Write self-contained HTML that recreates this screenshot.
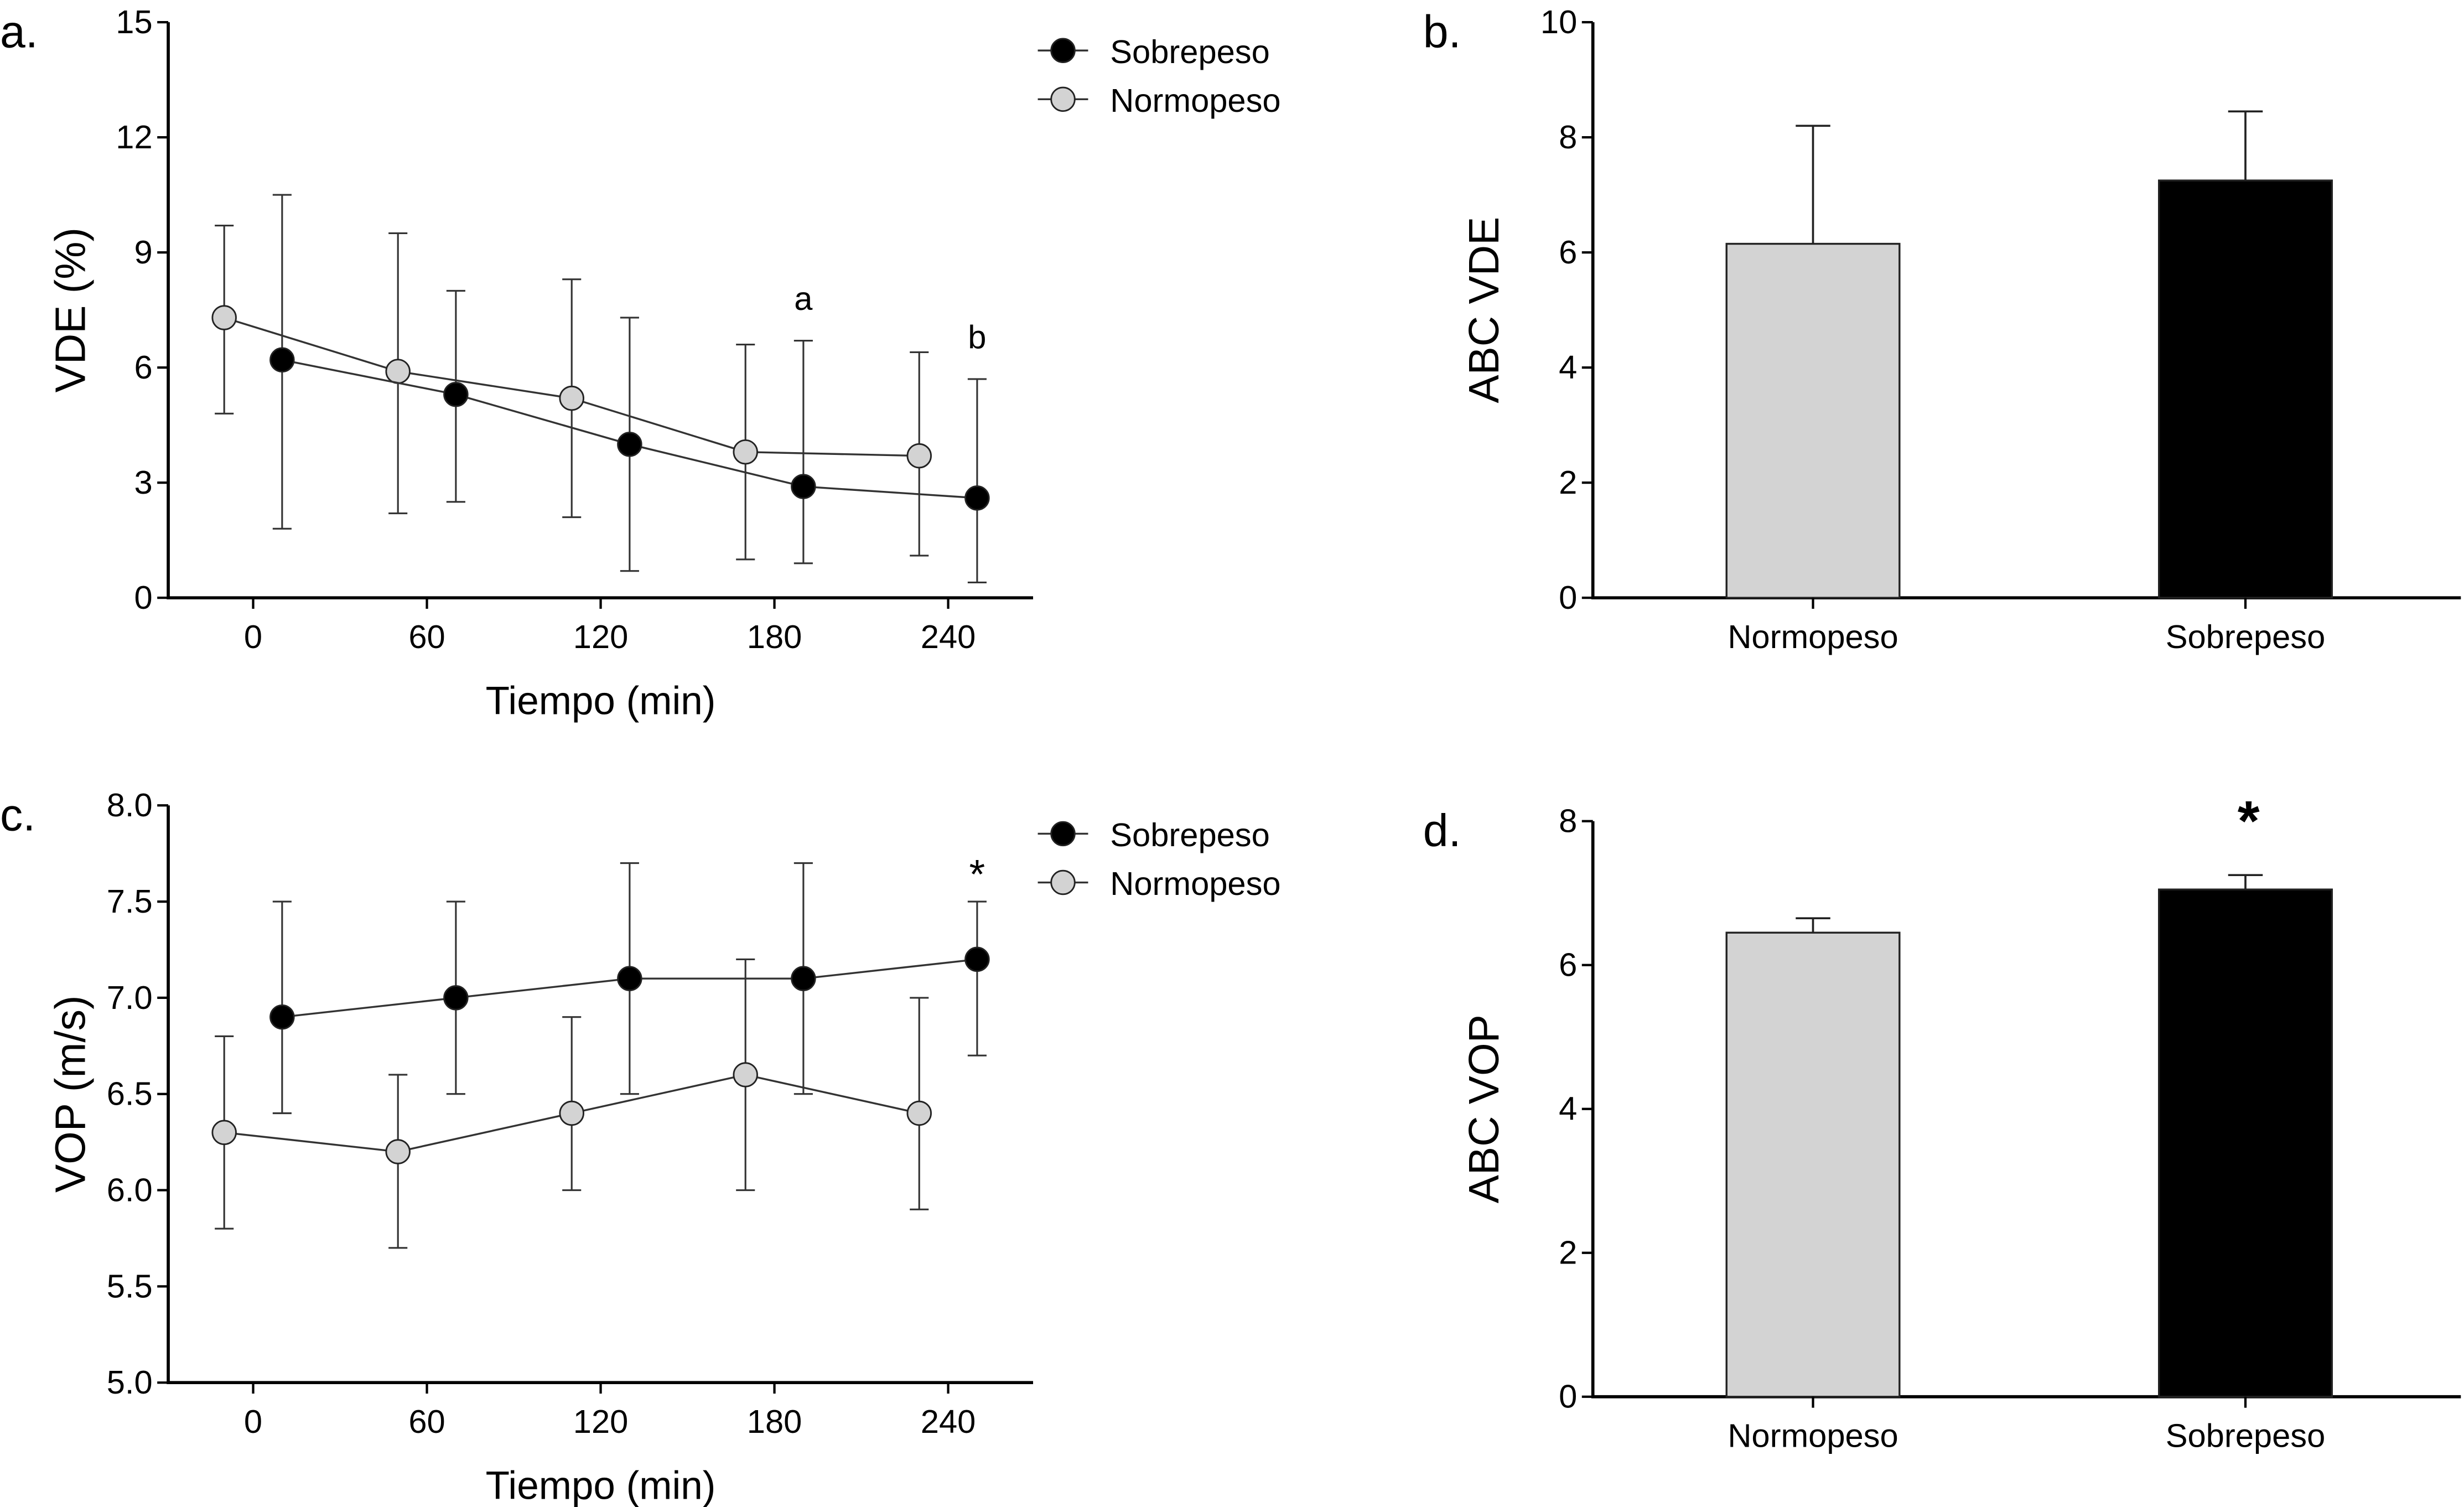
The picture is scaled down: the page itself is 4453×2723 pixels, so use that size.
<!DOCTYPE html>
<html><head><meta charset="utf-8"><style>
html,body{margin:0;padding:0;background:#fff}
svg{display:block}
text{font-family:"Liberation Sans Narrow","Liberation Sans",sans-serif;fill:#000}
.t{font-size:21px}
.ti{font-size:25px}
.lg{font-size:21px;font-family:"Liberation Sans",sans-serif}
</style></head><body>
<svg id="fig" width="4453" height="2723" viewBox="0 0 1567 958" xmlns="http://www.w3.org/2000/svg"></svg>
<script>
// Panel a data
const aNormT=[-10,50,110,170,230];
const aNormV=[7.3,5.9,5.2,3.8,3.7];
const aNormHi=[9.7,9.5,8.3,6.6,6.4];
const aNormLo=[4.8,2.2,2.1,1.0,1.1];
const aSobT=[10,70,130,190,250];
const aSobV=[6.2,5.3,4.0,2.9,2.6];
const aSobHi=[10.5,8.0,7.3,6.7,5.7];
const aSobLo=[1.8,2.5,0.7,0.9,0.4];
const aYTicks=[0,3,6,9,12,15];
const xTicks=[0,60,120,180,240];
// Panel c data
const cNormV=[6.3,6.2,6.4,6.6,6.4];
const cNormHi=[6.8,6.6,6.9,7.2,7.0];
const cNormLo=[5.8,5.7,6.0,6.0,5.9];
const cSobV=[6.9,7.0,7.1,7.1,7.2];
const cSobHi=[7.5,7.5,7.7,7.7,7.5];
const cSobLo=[6.4,6.5,6.5,6.5,6.7];
const cYTicks=[5.0,5.5,6.0,6.5,7.0,7.5,8.0];
// Panel b/d data
const barCats=["Normopeso","Sobrepeso"];
const bVals=[6.15,7.25];
const bErr=[8.2,8.45];
const bYTicks=[0,2,4,6,8,10];
const dVals=[6.45,7.05];
const dErr=[6.65,7.25];
const dYTicks=[0,2,4,6,8];

const NS="http://www.w3.org/2000/svg";
const svg=document.getElementById('fig');
function el(tag,attrs,parent){const e=document.createElementNS(NS,tag);for(const k in attrs)e.setAttribute(k,attrs[k]);(parent||svg).appendChild(e);return e;}
function txt(x,y,s,cls,anchor,parent){const t=el('text',{x:x,y:y,class:cls,'text-anchor':anchor||'start'},parent);t.textContent=s;return t;}

function linePanel(name,top,bot,ymin,ymax,yticks,yfmt,ytitle,letter,series,ann){
  const g=el('g',{});
  
  
  const X=t=>161+(t)*110.5/60;
  const Y=v=>bot-(v-ymin)/(ymax-ymin)*(bot-top);
  const ax=el('path',{d:`M107 ${top}V${bot}H657`,stroke:'#000','stroke-width':2,fill:'none'},g);
  
  
  yticks.forEach(v=>{el('line',{x1:100,x2:107,y1:Y(v),y2:Y(v),stroke:'#000','stroke-width':1.5},g);
    const t=txt(97,Y(v)+7,yfmt(v),'t','end',g);});
  xTicks.forEach(v=>{el('line',{x1:X(v),x2:X(v),y1:bot,y2:bot+7,stroke:'#000','stroke-width':1.5},g);
    const t=txt(X(v),bot+32,String(v),'t','middle',g);});
  const xt=txt(382,bot+74,'Tiempo (min)','ti','middle',g);
  
  const yt=txt(0,0,ytitle,'ti','middle',g);
  yt.setAttribute('transform',`translate(54,${(top+bot)/2}) rotate(-90)`);
  yt.style.fontSize='27px';
  
  const lt=txt(0,top+16,letter,'ti','start',g);lt.style.fontSize='29px';
  
  series.forEach(s=>{
    const sg=el('g',{},g);
    
    
    el('polyline',{points:s.t.map((t,i)=>X(t)+','+Y(s.v[i])).join(' '),fill:'none',stroke:'#333','stroke-width':1.2},sg);
    s.t.forEach((t,i)=>{const x=X(t);
      el('path',{d:`M${x} ${Y(s.hi[i])}V${Y(s.lo[i])}M${x-6} ${Y(s.hi[i])}H${x+6}M${x-6} ${Y(s.lo[i])}H${x+6}`,stroke:'#333','stroke-width':1.1,fill:'none'},sg);});
    s.t.forEach((t,i)=>{const c=el('circle',{cx:X(t),cy:Y(s.v[i]),r:7.5,fill:s.fill,stroke:'#222','stroke-width':1},sg);
      });
  });
  ann.forEach(a=>{const t=txt(X(a.t),Y(a.v),a.s,a.cls||'t','middle',g);if(a.size)t.style.fontSize=a.size;});
  const leg=el('g',{},g);
  
  
  [['Sobrepeso','#000',top+18],['Normopeso','#d3d3d3',top+49]].forEach(([n,f,y])=>{
    const e=el('g',{},leg);
    
    
    el('line',{x1:660,x2:692,y1:y,y2:y,stroke:'#333','stroke-width':1.2},e);
    el('circle',{cx:676,cy:y,r:7.5,fill:f,stroke:'#222','stroke-width':1},e);
    txt(706,y+8,n,'lg','start',e);
  });
}

function barPanel(name,top,bot,ymax,yticks,vals,errs,ytitle,letter,star){
  const g=el('g',{});
  
  
  const Y=v=>bot-v/ymax*(bot-top);
  const ax=el('path',{d:`M1013 ${top}V${bot}H1565`,stroke:'#000','stroke-width':2,fill:'none'},g);
  
  yticks.forEach(v=>{el('line',{x1:1006,x2:1013,y1:Y(v),y2:Y(v),stroke:'#000','stroke-width':1.5},g);
    const t=txt(1003,Y(v)+7,String(v),'t','end',g);});
  const yt=txt(0,0,ytitle,'ti','middle',g);
  yt.setAttribute('transform',`translate(953,${(top+bot)/2}) rotate(-90)`);
  yt.style.fontSize='27px';
  
  const lt=txt(905,top+16,letter,'ti','start',g);lt.style.fontSize='29px';
  
  const cx=[1153,1428],fills=['#d3d3d3','#000'];
  barCats.forEach((c,i)=>{
    el('path',{d:`M${cx[i]} ${Y(vals[i])}V${Y(errs[i])}M${cx[i]-11} ${Y(errs[i])}H${cx[i]+11}`,stroke:'#222','stroke-width':1.3,fill:'none'},g);
    const r=el('rect',{x:cx[i]-55,y:Y(vals[i]),width:110,height:bot-Y(vals[i]),fill:fills[i],stroke:'#222','stroke-width':1.2},g);
    
    el('line',{x1:cx[i],x2:cx[i],y1:bot,y2:bot+7,stroke:'#000','stroke-width':1.5},g);
    const t=txt(cx[i],bot+32,c,'t','middle',g);t.style.fontFamily='"Liberation Sans",sans-serif';
    
  });
  if(star){const t=txt(1430,Y(errs[1])-22,'*','ti','middle',g);t.style.fontSize='36px';t.style.fontWeight='bold';
    }
}

linePanel('panel-a-vde-line-chart',14,380,0,15,aYTicks,v=>String(v),'VDE (%)','a.',
 [{name:'series-normopeso',t:aNormT,v:aNormV,hi:aNormHi,lo:aNormLo,fill:'#d3d3d3'},
  {name:'series-sobrepeso',t:aSobT,v:aSobV,hi:aSobHi,lo:aSobLo,fill:'#000'}],
 [{t:190,v:7.5,s:'a'},{t:250,v:6.5,s:'b'}]);
linePanel('panel-c-vop-line-chart',512,879,5,8,cYTicks,v=>v.toFixed(1),'VOP (m/s)','c.',
 [{name:'series-normopeso',t:aNormT,v:cNormV,hi:cNormHi,lo:cNormLo,fill:'#d3d3d3'},
  {name:'series-sobrepeso',t:aSobT,v:cSobV,hi:cSobHi,lo:cSobLo,fill:'#000'}],
 [{t:250,v:7.57,s:'*',size:'26px'}]);
barPanel('panel-b-abc-vde-bar-chart',14,380,10,bYTicks,bVals,bErr,'ABC VDE','b.',false);
barPanel('panel-d-abc-vop-bar-chart',522,888,8,dYTicks,dVals,dErr,'ABC VOP','d.',true);
</script>
</body></html>
